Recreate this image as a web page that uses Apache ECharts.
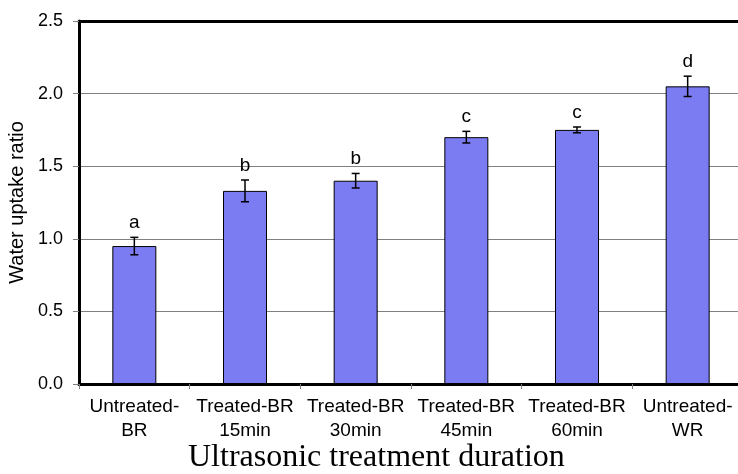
<!DOCTYPE html>
<html>
<head>
<meta charset="utf-8">
<script src="https://cdn.jsdelivr.net/npm/echarts@6/dist/echarts.min.js"></script>
<style>
  html, body { margin: 0; padding: 0; background: #fff; }
  #chart { width: 738px; height: 474px; }
</style>
</head>
<body>
<div id="chart"></div>
<script>
// data
const categories = ['Untreated-\nBR', 'Treated-BR\n15min', 'Treated-BR\n30min', 'Treated-BR\n45min', 'Treated-BR\n60min', 'Untreated-\nWR'];
const uptake = [0.95, 1.33, 1.40, 1.70, 1.75, 2.05];
const errors = [0.06, 0.075, 0.05, 0.04, 0.02, 0.07];
const letters = ['a', 'b', 'b', 'c', 'c', 'd'];
const yTicks = [0, 0.5, 1.0, 1.5, 2.0, 2.5];

const sans = 'Liberation Sans, Arial, sans-serif';

const errData = uptake.map((v, i) => [i, v - errors[i], v + errors[i]]);

const chart = echarts.init(document.getElementById('chart'), null, { renderer: 'canvas' });

chart.setOption({
  animation: false,
  backgroundColor: '#fff',
  grid: { left: 79, right: -5, top: 21, bottom: 90, containLabel: false, outerBoundsMode: 'none' },
  xAxis: [{
    type: 'category',
    data: categories,
    axisLine: { lineStyle: { color: '#000', width: 3 } },
    axisTick: { show: true, length: 5, lineStyle: { color: '#808080', width: 1 } },
    axisLabel: { color: '#000', fontFamily: sans, fontSize: 19, lineHeight: 24, margin: 11, interval: 0 },
    splitLine: { show: false }
  }, {
    type: 'category',
    position: 'top',
    data: categories,
    axisLine: { lineStyle: { color: '#000', width: 3 } },
    axisTick: { show: false },
    axisLabel: { show: false }
  }],
  yAxis: {
    type: 'value',
    min: 0,
    max: 2.5,
    interval: 0.5,
    name: 'Water uptake ratio',
    nameLocation: 'middle',
    nameGap: 49,
    nameTextStyle: { color: '#000', fontFamily: sans, fontSize: 20 },
    axisLine: { show: true, lineStyle: { color: '#000', width: 3 } },
    axisTick: { show: true, length: 6, lineStyle: { color: '#808080', width: 1 } },
    axisLabel: {
      color: '#000', fontFamily: sans, fontSize: 18, margin: 16,
      formatter: v => yTicks.includes(v) ? v.toFixed(1) : ''
    },
    splitLine: { show: true, lineStyle: { color: '#808080', width: 1 } }
  },
  series: [{
    type: 'bar',
    data: uptake,
    barWidth: 44,
    itemStyle: { color: '#7c7cf2', borderColor: '#000', borderWidth: 1 },
    z: 2
  }, {
    type: 'custom',
    data: errData,
    z: 3,
    renderItem: function (params, api) {
      const x = api.value(0);
      const lo = api.coord([x, api.value(1)]);
      const hi = api.coord([x, api.value(2)]);
      const cap = 4;
      const st = { stroke: '#000', lineWidth: 1.5 };
      return {
        type: 'group',
        children: [
          { type: 'line', shape: { x1: hi[0], y1: hi[1], x2: lo[0], y2: lo[1] }, style: st },
          { type: 'line', shape: { x1: hi[0] - cap, y1: hi[1], x2: hi[0] + cap, y2: hi[1] }, style: st },
          { type: 'line', shape: { x1: lo[0] - cap, y1: lo[1], x2: lo[0] + cap, y2: lo[1] }, style: st },
          {
            type: 'text',
            style: {
              text: letters[params.dataIndex],
              x: hi[0], y: hi[1] - 5,
              align: 'center', verticalAlign: 'bottom',
              fill: '#000', font: '19px ' + sans
            }
          }
        ]
      };
    }
  }],
  graphic: [{
    type: 'text',
    left: 188,
    top: 442,
    style: {
      text: 'Ultrasonic treatment duration',
      fill: '#000',
      font: '32px Liberation Serif, Times New Roman, serif'
    }
  }]
});
</script>
</body>
</html>
